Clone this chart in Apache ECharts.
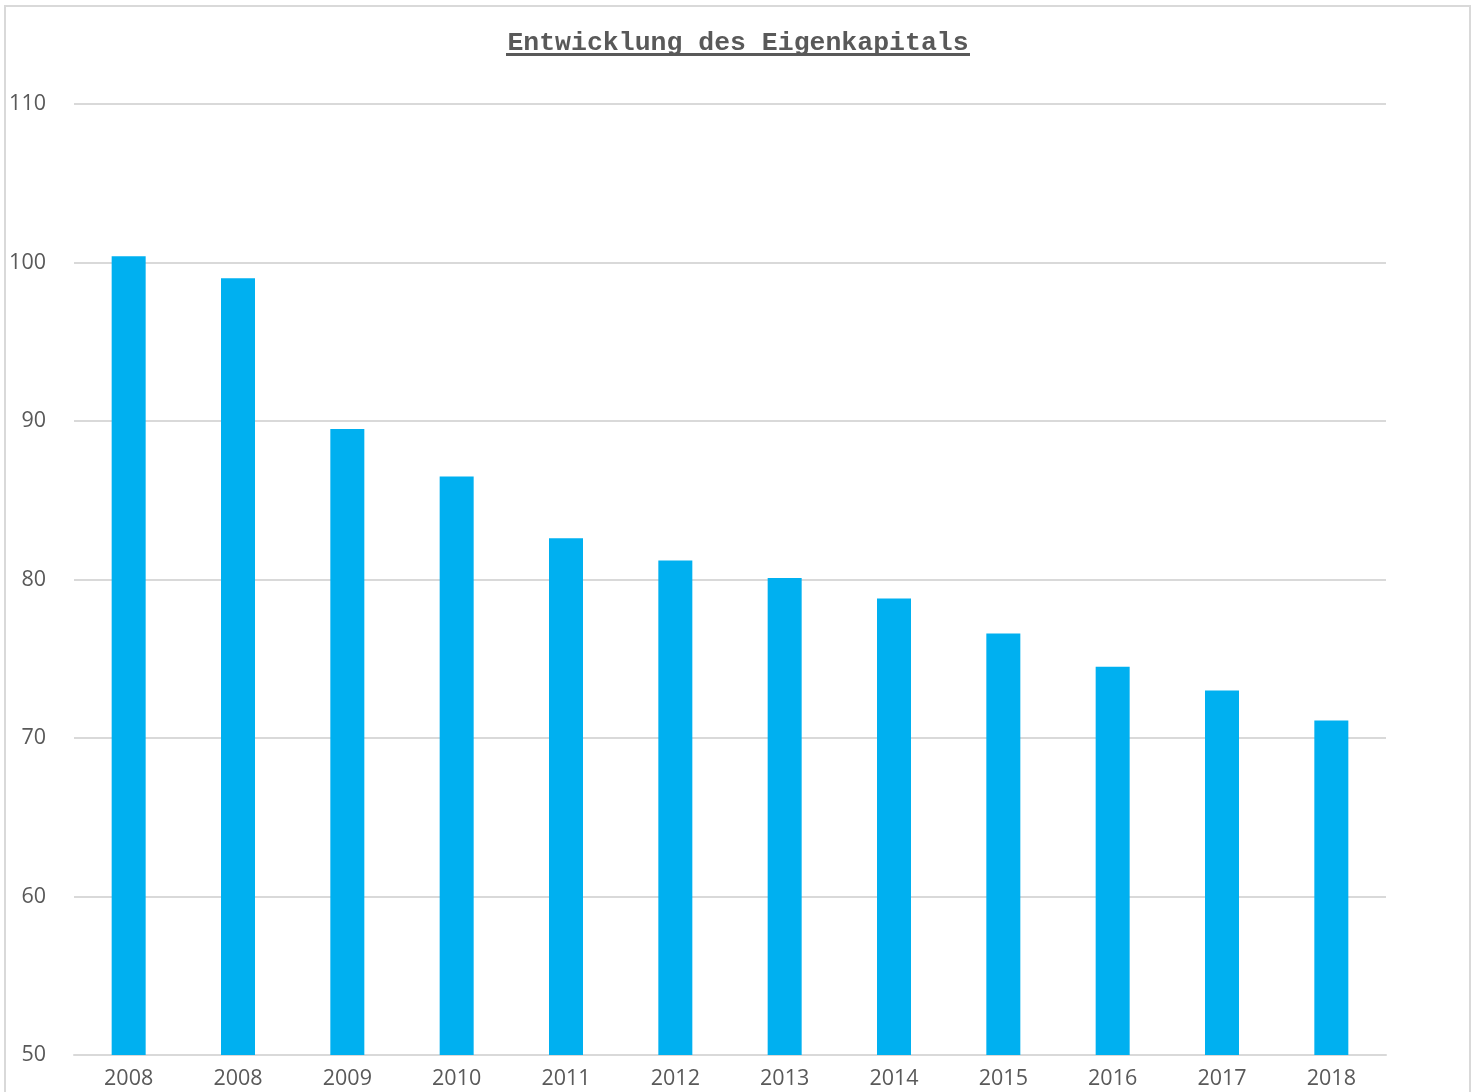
<!DOCTYPE html>
<html>
<head>
<meta charset="utf-8">
<script src="https://cdn.jsdelivr.net/npm/echarts@6/dist/echarts.min.js"></script>
<style>html,body{margin:0;padding:0;background:#fff}#c{width:1476px;height:1092px}</style>
</head>
<body>
<div id="c"></div>
<script>
const titleText = 'Entwicklung des Eigenkapitals';
const categories = ['2008','2008','2009','2010','2011','2012','2013','2014','2015','2016','2017','2018'];
const values = [100.4, 99.0, 89.5, 86.5, 82.6, 81.2, 80.1, 78.8, 76.6, 74.5, 73.0, 71.1];
const yMin = 50, yMax = 110, yStep = 10;

const chart = echarts.init(document.getElementById('c'), null, {renderer: 'canvas'});
chart.setOption({
  animation: false,
  backgroundColor: '#ffffff',
  title: {
    text: titleText,
    left: 'center',
    top: 25,
    textStyle: {fontFamily: "'Courier New', 'Liberation Mono', monospace", fontWeight: 'bold', fontSize: 26.5, color: '#595959'}
  },
  graphic: [
    {type: 'rect', shape: {x: 5, y: 6, width: 1465, height: 1120}, style: {fill: 'none', stroke: '#d9d9d9', lineWidth: 2}, silent: true},
    {type: 'line', shape: {x1: 506, y1: 54.5, x2: 970, y2: 54.5}, style: {stroke: '#595959', lineWidth: 3}, silent: true}
  ],
  grid: {left: 74, right: 90, top: 104, bottom: 37, containLabel: false},
  xAxis: {
    type: 'category',
    data: categories,
    axisLine: {show: true, lineStyle: {color: '#d9d9d9', width: 2}},
    axisTick: {show: false},
    axisLabel: {color: '#595959', fontSize: 21.5, fontFamily: 'Open Sans', margin: 13, interval: 0}
  },
  yAxis: {
    type: 'value',
    min: yMin, max: yMax, interval: yStep,
    axisLine: {show: false},
    axisTick: {show: false},
    splitLine: {lineStyle: {color: '#d9d9d9', width: 2}},
    axisLabel: {color: '#595959', fontSize: 21.5, fontFamily: 'Open Sans', margin: 28}
  },
  series: [{
    type: 'bar',
    data: values,
    barWidth: 34,
    itemStyle: {color: '#00b0f0'}
  }]
});
</script>
</body>
</html>
